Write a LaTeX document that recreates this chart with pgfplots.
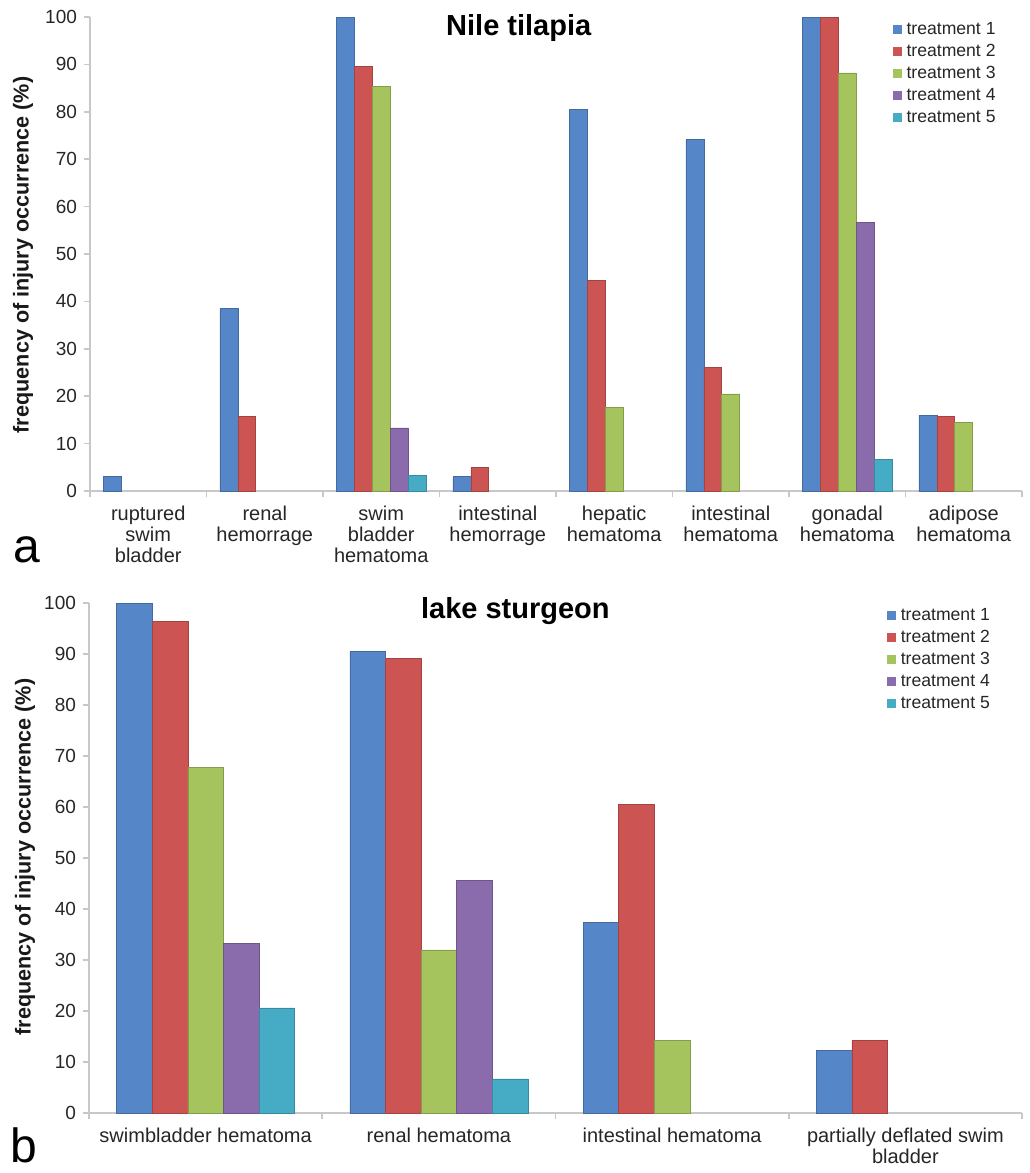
\documentclass[border=0pt]{standalone}
\usepackage{fontspec}
\setmainfont{Liberation Sans}
\usepackage{pgfplots}
\pgfplotsset{compat=1.18}
\definecolor{tA}{HTML}{5586C8}
\definecolor{tB}{HTML}{CC5452}
\definecolor{tC}{HTML}{A5C45E}
\definecolor{tD}{HTML}{8A6BAB}
\definecolor{tE}{HTML}{46ACC6}
\definecolor{axgray}{HTML}{C8C8C8}
\pgfplotsset{
  common/.style={
    scale only axis,
    clip=false,
    ymin=0, ymax=100,
    ytick={0,10,...,100},
    axis x line=bottom, axis y line=left,
    axis line style={draw=axgray, line width=0.8pt, -},
    tick align=outside,
    ytick style={draw=axgray, line width=0.8pt},
    major tick length=3pt,
    xtick style={draw=none},
    minor x tick style={draw=axgray, line width=0.8pt},
    minor tick length=3pt,
    ybar=0pt,
    /pgf/number format/assume math mode=true,
    yticklabel style={font=\fontsize{9.5}{11}\selectfont, text=black!85},
    xticklabel style={font=\fontsize{10}{10.5}\selectfont, align=center, text=black!85, yshift=-1pt},
    ylabel={frequency of injury occurrence (\%)},
    ylabel style={font=\bfseries\fontsize{10.8}{12}\selectfont, text=black!90, anchor=center},
    legend style={draw=none, fill=none, font=\fontsize{8.8}{10}\selectfont, anchor=north west,
      row sep=0pt, inner sep=0pt,
      nodes={inner sep=0.7pt, text height=7.4pt, text depth=2.2pt, text=black!85}},
    legend cell align=left,
    legend image code/.code={\fill[#1,draw=none] (0pt,-2.1pt) rectangle (4.4pt,2.1pt); \path (6pt,0pt);},
    title style={font=\bfseries\fontsize{14.5}{16}\selectfont, anchor=base},
  },
  s1/.style={fill=tA, draw=tA!80!black, line width=0.3pt},
  s2/.style={fill=tB, draw=tB!80!black, line width=0.3pt},
  s3/.style={fill=tC, draw=tC!80!black, line width=0.3pt},
  s4/.style={fill=tD, draw=tD!80!black, line width=0.3pt},
  s5/.style={fill=tE, draw=tE!80!black, line width=0.3pt},
}
\begin{document}
\begin{tikzpicture}
\useasboundingbox (0,0) rectangle (514.5pt,-586.5pt);
% ---------------- panel a: Nile tilapia ----------------
\begin{axis}[common,
  at={(45pt,-245.5pt)}, anchor=south west,
  width=466pt, height=237pt,
  xmin=-0.5, xmax=7.5,
  bar width=8.95pt,
  xtick={0,1,2,3,4,5,6,7},
  xticklabels={{ruptured\\swim\\bladder},{renal\\hemorrage},{swim\\bladder\\hematoma},{intestinal\\hemorrage},{hepatic\\hematoma},{intestinal\\hematoma},{gonadal\\hematoma},{adipose\\hematoma}},
  minor xtick={-0.5,0.5,...,7.5},
  ylabel style={at={(axis description cs:-0.0719,0.498)}},
  title={Nile tilapia},
  title style={at={(axis description cs:0.46,0.935)}},
  legend style={at={(axis description cs:0.861,0.998)}},
]
\addplot[s1] coordinates {(0,3.0) (1,38.5) (2,100) (3,3.0) (4,80.5) (5,74.1) (6,100) (7,16.0)};
\addplot[s2] coordinates {(1,15.7) (2,89.5) (3,5.0) (4,44.5) (5,26.1) (6,100) (7,15.7)};
\addplot[s3] coordinates {(2,85.3) (4,17.6) (5,20.5) (6,88.2) (7,14.4)};
\addplot[s4] coordinates {(2,13.3) (6,56.6)};
\addplot[s5] coordinates {(2,3.3) (6,6.7)};
\legend{treatment 1,treatment 2,treatment 3,treatment 4,treatment 5}
\end{axis}
% ---------------- panel b: lake sturgeon ----------------
\begin{axis}[common,
  at={(44.5pt,-556.5pt)}, anchor=south west,
  width=466.5pt, height=255pt,
  xmin=-0.5, xmax=3.5,
  bar width=17.8pt,
  xtick={0,1,2,3},
  xticklabels={{swimbladder hematoma},{renal hematoma},{intestinal hematoma},{partially deflated swim\\bladder}},
  minor xtick={-0.5,0.5,...,3.5},
  ylabel style={at={(axis description cs:-0.0686,0.502)}},
  title={lake sturgeon},
  title style={at={(axis description cs:0.457,0.946)}},
  legend style={at={(axis description cs:0.855,0.998)}},
]
\addplot[s1] coordinates {(0,100) (1,90.5) (2,37.4) (3,12.3)};
\addplot[s2] coordinates {(0,96.4) (1,89.2) (2,60.5) (3,14.2)};
\addplot[s3] coordinates {(0,67.8) (1,32.0) (2,14.2)};
\addplot[s4] coordinates {(0,33.3) (1,45.6)};
\addplot[s5] coordinates {(0,20.6) (1,6.7)};
\legend{treatment 1,treatment 2,treatment 3,treatment 4,treatment 5}
\end{axis}
\node[anchor=base west, inner sep=0pt, font=\fontsize{24}{26}\selectfont] at (6.5pt,-281pt) {a};
\node[anchor=base west, inner sep=0pt, font=\fontsize{24}{26}\selectfont] at (5pt,-581pt) {b};
\end{tikzpicture}
\end{document}
